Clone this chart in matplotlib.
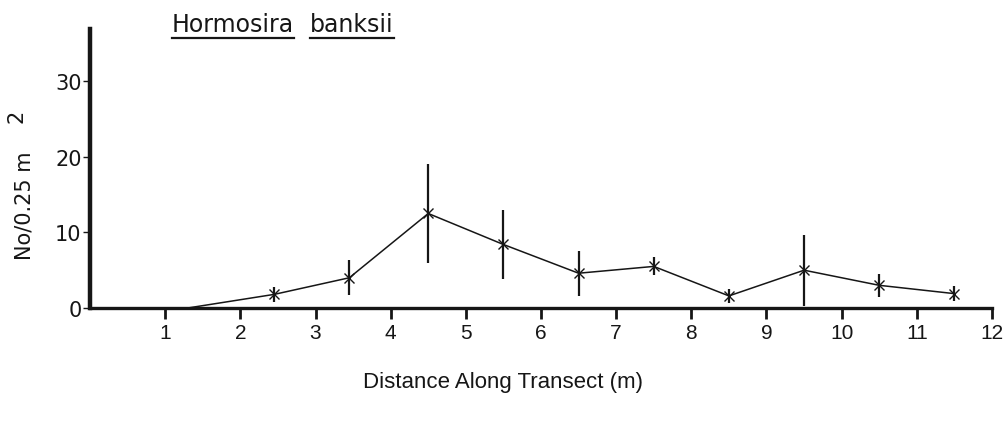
import matplotlib
matplotlib.use("Agg")
import matplotlib.pyplot as plt
from matplotlib.lines import Line2D

# Hormosira banksii counts along the transect (mean +/- spread per quadrat)
distance = [1.3, 2.45, 3.45, 4.5, 5.5, 6.5, 7.5, 8.5, 9.5, 10.5, 11.5]
mean_count = [0.0, 1.8, 4.0, 12.5, 8.4, 4.6, 5.5, 1.6, 5.0, 3.0, 1.9]
spread = [0.0, 1.0, 2.3, 6.5, 4.5, 3.0, 1.2, 0.9, 4.7, 1.5, 1.0]

x_ticks = list(range(1, 13))
y_ticks = [0, 10, 20, 30]

W, H = 1007, 439
INK = "#161616"
NARROW = ["Liberation Sans", "DejaVu Sans"]

fig = plt.figure(figsize=(W / 100, H / 100), dpi=100)
fig.patch.set_facecolor("white")

# axes box: x=0 at px 90, x=12 at px 992, y=0 at px 309, top of axis at px 30
ax = fig.add_axes([90 / W, 1 - 309 / H, (992 - 90) / W, (309 - 30) / H])
ax.set_xlim(0, 12)
ax.set_ylim(0, 36.9)

ax.errorbar(distance, mean_count, yerr=spread, fmt="-", color=INK, lw=1.1,
            ecolor=INK, elinewidth=1.6, capsize=0,
            marker="x", ms=7, mew=1.0, markevery=slice(1, None), clip_on=False)

for side in ("top", "right"):
    ax.spines[side].set_visible(False)
ax.spines["left"].set_linewidth(3.2)
ax.spines["bottom"].set_linewidth(2.4)
ax.spines["left"].set_color(INK)
ax.spines["bottom"].set_color(INK)

ax.set_xticks(x_ticks)
ax.set_xticklabels([str(t) for t in x_ticks], family=NARROW, fontsize=15)
ax.tick_params(axis="x", direction="out", length=8, width=2, pad=2.5, colors=INK)

ax.set_yticks(y_ticks)
ax.set_yticklabels([str(t) for t in y_ticks], family="DejaVu Sans", fontsize=15)
ax.tick_params(axis="y", direction="out", length=5, width=1, pad=1, colors=INK)

# axis titles
fig.text(503 / W, 1 - 383 / H, "Distance Along Transect (m)", family=NARROW,
         fontsize=16, color=INK, ha="center", va="center")
fig.text(25 / W, 1 - 206 / H, "No/0.25 m", family="DejaVu Sans", fontsize=15,
         color=INK, rotation=90, ha="center", va="center")
fig.text(17 / W, 1 - 116 / H, "2", family="DejaVu Sans", fontsize=15,
         color=INK, rotation=90, ha="center", va="center")

# species name, each word underlined separately
words = [("Hormosira", 172), ("banksii", 310)]
fig.canvas.draw()
renderer = fig.canvas.get_renderer()
for word, left in words:
    t = fig.text(left / W, 1 - 32 / H, word, family="DejaVu Sans", fontsize=17,
                 color=INK, ha="left", va="baseline")
    bb = t.get_window_extent(renderer)
    y_line = 1 - 39 / H
    fig.add_artist(Line2D([bb.x0 / W, bb.x1 / W], [y_line, y_line],
                          transform=fig.transFigure, color=INK, lw=1.6))

fig.savefig("out.png", dpi=100, facecolor="white")
